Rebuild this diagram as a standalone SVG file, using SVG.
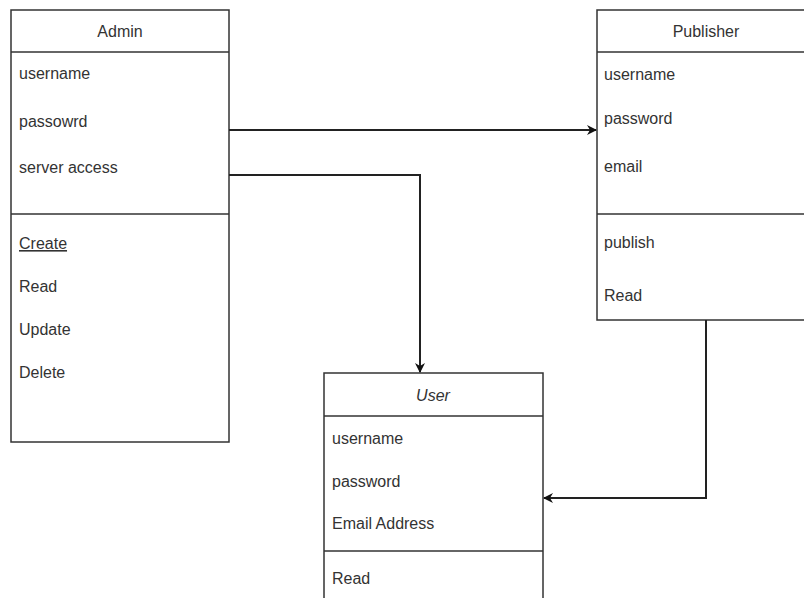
<svg xmlns="http://www.w3.org/2000/svg" width="804" height="598" viewBox="0 0 804 598">
<defs>
<style>
.box{fill:#fff;stroke:#333;stroke-width:1.5}
.ln{stroke:#333;stroke-width:1.5;fill:none}
.t{font-family:"Liberation Sans",Arial,sans-serif;font-size:16px;fill:#333}
.h{text-anchor:middle}
.edge{stroke:#222;stroke-width:2;fill:none}
</style>
<marker id="arr" viewBox="0 0 10 10" refX="9" refY="5" markerWidth="10" markerHeight="10" markerUnits="userSpaceOnUse" orient="auto">
<path d="M0,0 L10,5 L0,10 L3,5 Z" fill="#111"/>
</marker>
</defs>
<rect width="804" height="598" fill="#fff"/>
<g id="admin">
<rect class="box" x="11" y="10" width="218" height="432"/>
<line class="ln" x1="11" y1="52" x2="229" y2="52"/>
<line class="ln" x1="11" y1="214" x2="229" y2="214"/>
<text class="t h" x="120" y="37">Admin</text>
<text class="t" x="19" y="79">username</text>
<text class="t" x="19" y="127">passowrd</text>
<text class="t" x="19" y="173">server access</text>
<text class="t" x="19" y="249" text-decoration="underline">Create</text>
<text class="t" x="19" y="292">Read</text>
<text class="t" x="19" y="335">Update</text>
<text class="t" x="19" y="378">Delete</text>
</g>
<g id="publisher">
<rect class="box" x="597" y="10" width="220" height="310"/>
<line class="ln" x1="597" y1="52" x2="817" y2="52"/>
<line class="ln" x1="597" y1="214" x2="817" y2="214"/>
<text class="t h" x="706" y="37">Publisher</text>
<text class="t" x="604" y="80">username</text>
<text class="t" x="604" y="124">password</text>
<text class="t" x="604" y="172">email</text>
<text class="t" x="604" y="248">publish</text>
<text class="t" x="604" y="301">Read</text>
</g>
<g id="user">
<rect class="box" x="324" y="373" width="219" height="240"/>
<line class="ln" x1="324" y1="416" x2="543" y2="416"/>
<line class="ln" x1="324" y1="551" x2="543" y2="551"/>
<text class="t h" x="433" y="401" font-style="italic">User</text>
<text class="t" x="332" y="444">username</text>
<text class="t" x="332" y="487">password</text>
<text class="t" x="332" y="529">Email Address</text>
<text class="t" x="332" y="584">Read</text>
</g>
<g id="connectors">
<path class="edge" d="M229,130 L596,130" marker-end="url(#arr)"/>
<path class="edge" d="M229,175 L420,175 L420,372" marker-end="url(#arr)"/>
<path class="edge" d="M706,320 L706,498 L544,498" marker-end="url(#arr)"/>
</g>
</svg>
